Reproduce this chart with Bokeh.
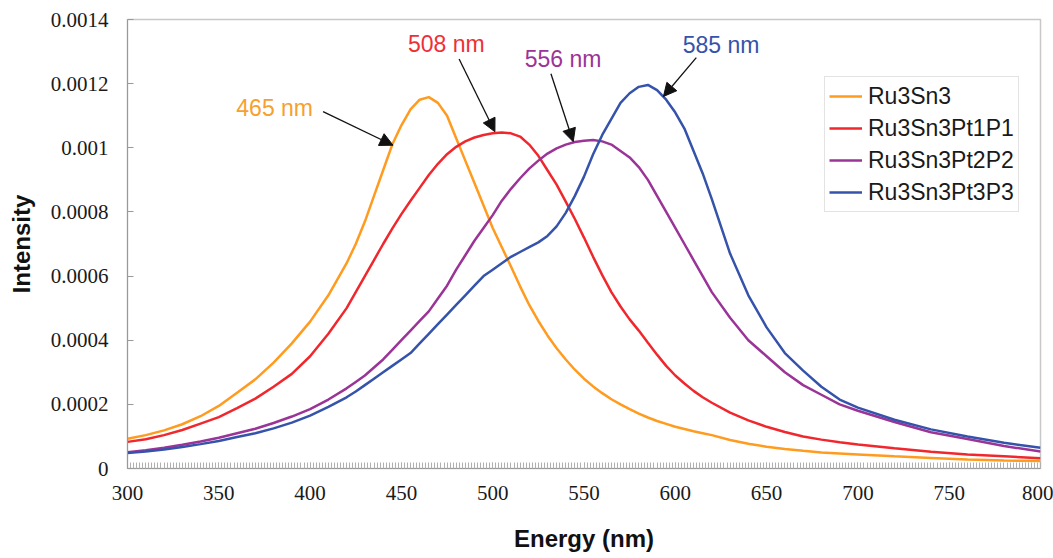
from bokeh.plotting import figure
from bokeh.models import (Range1d, SingleIntervalTicker, FixedTicker, CustomJSTickFormatter,
                          Label, Arrow, NormalHead)
from bokeh.embed import file_html
from bokeh.resources import INLINE

# ---------------- data ----------------
wavelength = [300, 310, 320, 330, 340, 350, 360, 370, 380, 390, 400, 410, 420,
              425, 430, 435, 440, 445, 450, 455, 460, 465, 470, 475, 480, 485, 490, 495, 500,
              505, 510, 515, 520, 525, 530, 535, 540, 545, 550, 555, 560, 565, 570, 575, 580,
              585, 590, 595, 600, 605, 610, 615, 620,
              630, 640, 650, 660, 670, 680, 690, 700,
              720, 740, 760, 780, 800]

ru3sn3 = [0.000093, 0.000104, 0.000119, 0.000138, 0.000163, 0.000195, 0.000236, 0.000278, 0.00033, 0.00039, 0.000458, 0.00054, 0.00064,
          0.0007, 0.00077, 0.00085, 0.00093, 0.00101, 0.00107, 0.00112, 0.00115, 0.001158, 0.00114, 0.0011, 0.00103, 0.00096, 0.00089, 0.00082, 0.00075,
          0.00069, 0.00063, 0.000568, 0.00051, 0.00046, 0.000415, 0.000375, 0.00034, 0.000308, 0.00028, 0.000256, 0.000235, 0.000216, 0.0002, 0.000185, 0.000171,
          0.000159, 0.000148, 0.000139, 0.00013, 0.000123, 0.000116, 0.00011, 0.000104,
          0.000089, 0.000077, 0.000068, 0.000061, 0.000055, 0.00005, 0.000047, 0.000044,
          0.000038, 0.000033, 0.000028, 0.000025, 0.000023]

ru3sn3pt1p1 = [0.000083, 0.000091, 0.000104, 0.00012, 0.00014, 0.00016, 0.000188, 0.000218, 0.000255, 0.000295, 0.00035, 0.00042, 0.0005,
               0.00055, 0.0006, 0.00065, 0.0007, 0.000748, 0.000793, 0.000835, 0.000875, 0.000915, 0.00095, 0.00098, 0.001003, 0.00102, 0.001032, 0.00104, 0.001045,
               0.001048, 0.001045, 0.001035, 0.00101, 0.000975, 0.00093, 0.000885, 0.000832, 0.000778, 0.00072, 0.00066, 0.000603, 0.00055, 0.000505, 0.000465, 0.00043,
               0.000392, 0.000355, 0.00032, 0.00029, 0.000265, 0.000242, 0.000222, 0.000205,
               0.000174, 0.00015, 0.00013, 0.000114, 0.0001, 0.00009, 0.000082, 0.000075,
               0.000063, 0.000052, 0.000044, 0.000038, 0.000032]

ru3sn3pt2p2 = [0.000051, 0.000057, 0.000065, 0.000074, 0.000084, 0.000096, 0.00011, 0.000124, 0.000142, 0.000162, 0.000185, 0.000215, 0.00025,
               0.00027, 0.00029, 0.000315, 0.00034, 0.00037, 0.0004, 0.00043, 0.00046, 0.00049, 0.00053, 0.00057, 0.00062, 0.000665, 0.00071, 0.00075, 0.00079,
               0.000835, 0.000872, 0.000905, 0.000935, 0.00096, 0.000982, 0.000998, 0.00101, 0.001018, 0.001022, 0.001024, 0.00102, 0.00101, 0.00099, 0.00097, 0.00094,
               0.0009, 0.00085, 0.0008, 0.00075, 0.0007, 0.00065, 0.0006, 0.00055,
               0.00047, 0.0004, 0.00035, 0.0003, 0.00026, 0.00023, 0.0002, 0.00018,
               0.000145, 0.000113, 0.000092, 0.00007, 0.000053]

ru3sn3pt3p3 = [0.000048, 0.000053, 0.000059, 0.000067, 0.000076, 0.000086, 0.000098, 0.00011, 0.000125, 0.000143, 0.000165, 0.000192, 0.000222,
               0.00024, 0.00026, 0.00028, 0.0003, 0.00032, 0.00034, 0.00036, 0.00039, 0.00042, 0.00045, 0.00048, 0.00051, 0.00054, 0.00057, 0.0006, 0.00062,
               0.00064, 0.00066, 0.000675, 0.00069, 0.000705, 0.000725, 0.000755, 0.000797, 0.00085, 0.00091, 0.00098, 0.00104, 0.00109, 0.00114, 0.00117, 0.00119,
               0.001196, 0.00118, 0.00115, 0.00111, 0.00106, 0.00099, 0.00092, 0.00084,
               0.00067, 0.00054, 0.00044, 0.00036, 0.000305, 0.000255, 0.000215, 0.00019,
               0.000152, 0.000122, 0.0001, 0.00008, 0.000065]

series_names = ["Ru3Sn3", "Ru3Sn3Pt1P1", "Ru3Sn3Pt2P2", "Ru3Sn3Pt3P3"]
series_values = [ru3sn3, ru3sn3pt1p1, ru3sn3pt2p2, ru3sn3pt3p3]
series_colors = ["#FF9B1F", "#F0282D", "#9B3497", "#3553AB"]

y_ticks = [0, 0.0002, 0.0004, 0.0006, 0.0008, 0.001, 0.0012, 0.0014]

peak_labels = ["465 nm", "508 nm", "556 nm", "585 nm"]
label_x = [380.6, 474.6, 538.5, 625.1]
label_y = [0.001124, 0.001325, 0.001278, 0.001319]
arrow_x0 = [407.1, 481.6, 531.9, 611.5]
arrow_y0 = [0.001113, 0.001277, 0.001231, 0.001281]
arrow_x1 = [445.4, 501.2, 544.1, 593.5]
arrow_y1 = [0.001008, 0.00105, 0.001019, 0.00116]
label_colors = ["#F7A030", "#EE3035", "#9B3497", "#3553AB"]

# ---------------- figure ----------------
p = figure(width=1053, height=558, output_backend="svg", toolbar_location=None,
           x_range=Range1d(300, 800), y_range=Range1d(0, 0.0014),
           min_border_left=127, min_border_right=13, min_border_top=19, min_border_bottom=90)
p.xgrid.visible = False
p.ygrid.visible = False
p.outline_line_color = "#c8c8c8"
p.outline_line_width = 1.5
p.background_fill_color = "white"
p.border_fill_color = "white"

for name, vals, col in zip(series_names, series_values, series_colors):
    p.line(wavelength, vals, line_color=col, line_width=2.5, legend_label=name)

# x axis
xa = p.xaxis[0]
xa.ticker = SingleIntervalTicker(interval=50, num_minor_ticks=30)
xa.axis_line_color = "#999999"
xa.major_tick_in = 6
xa.major_tick_out = 0
xa.minor_tick_in = 6
xa.minor_tick_out = 0
xa.major_tick_line_color = "#aaaaaa"
xa.minor_tick_line_color = "#b0b0b0"
xa.major_label_text_font = "Liberation Serif"
xa.major_label_text_font_size = "21px"
xa.major_label_text_color = "#1a1a1a"
xa.major_label_standoff = 17
xa.axis_label = "Energy (nm)"
xa.axis_label_text_font = "Liberation Sans"
xa.axis_label_text_font_style = "bold"
xa.axis_label_text_font_size = "24px"
xa.axis_label_text_color = "#111111"
xa.axis_label_standoff = 22

# y axis
ya = p.yaxis[0]
ya.ticker = FixedTicker(ticks=y_ticks)
ya.formatter = CustomJSTickFormatter(code="return String(Number(tick.toFixed(4)));")
ya.axis_line_color = "#999999"
ya.major_tick_in = 6
ya.major_tick_out = 0
ya.major_tick_line_color = "#999999"
ya.minor_tick_line_color = None
ya.major_label_text_font = "Liberation Serif"
ya.major_label_text_font_size = "21px"
ya.major_label_text_color = "#1a1a1a"
ya.major_label_standoff = 19
ya.axis_label = "Intensity"
ya.axis_label_text_font = "Liberation Sans"
ya.axis_label_text_font_style = "bold"
ya.axis_label_text_font_size = "24px"
ya.axis_label_text_color = "#111111"
ya.axis_label_standoff = 13

# annotations
for txt, lx, ly, col, x0, y0, x1, y1 in zip(peak_labels, label_x, label_y, label_colors,
                                              arrow_x0, arrow_y0, arrow_x1, arrow_y1):
    p.add_layout(Label(x=lx, y=ly, text=txt, text_align="center", text_baseline="middle",
                       text_font="Liberation Sans", text_font_size="23px", text_color=col))
    p.add_layout(Arrow(x_start=x0, y_start=y0, x_end=x1, y_end=y1,
                       line_color="#111111", line_width=1.3,
                       end=NormalHead(size=13, fill_color="#111111", line_color="#111111")))

# legend
lg = p.legend[0]
lg.location = (697, 256)
lg.label_text_font = "Liberation Sans"
lg.label_text_font_size = "23px"
lg.label_text_color = "#1a1a1a"
lg.glyph_width = 33
lg.glyph_height = 30
lg.label_height = 30
lg.spacing = 2
lg.padding = 4
lg.label_standoff = 6
lg.margin = 0
lg.border_line_color = "#c8c8c8"
lg.border_line_width = 1.5
lg.background_fill_color = "white"
lg.background_fill_alpha = 1.0

open("out.html", "w").write(file_html(p, INLINE))
